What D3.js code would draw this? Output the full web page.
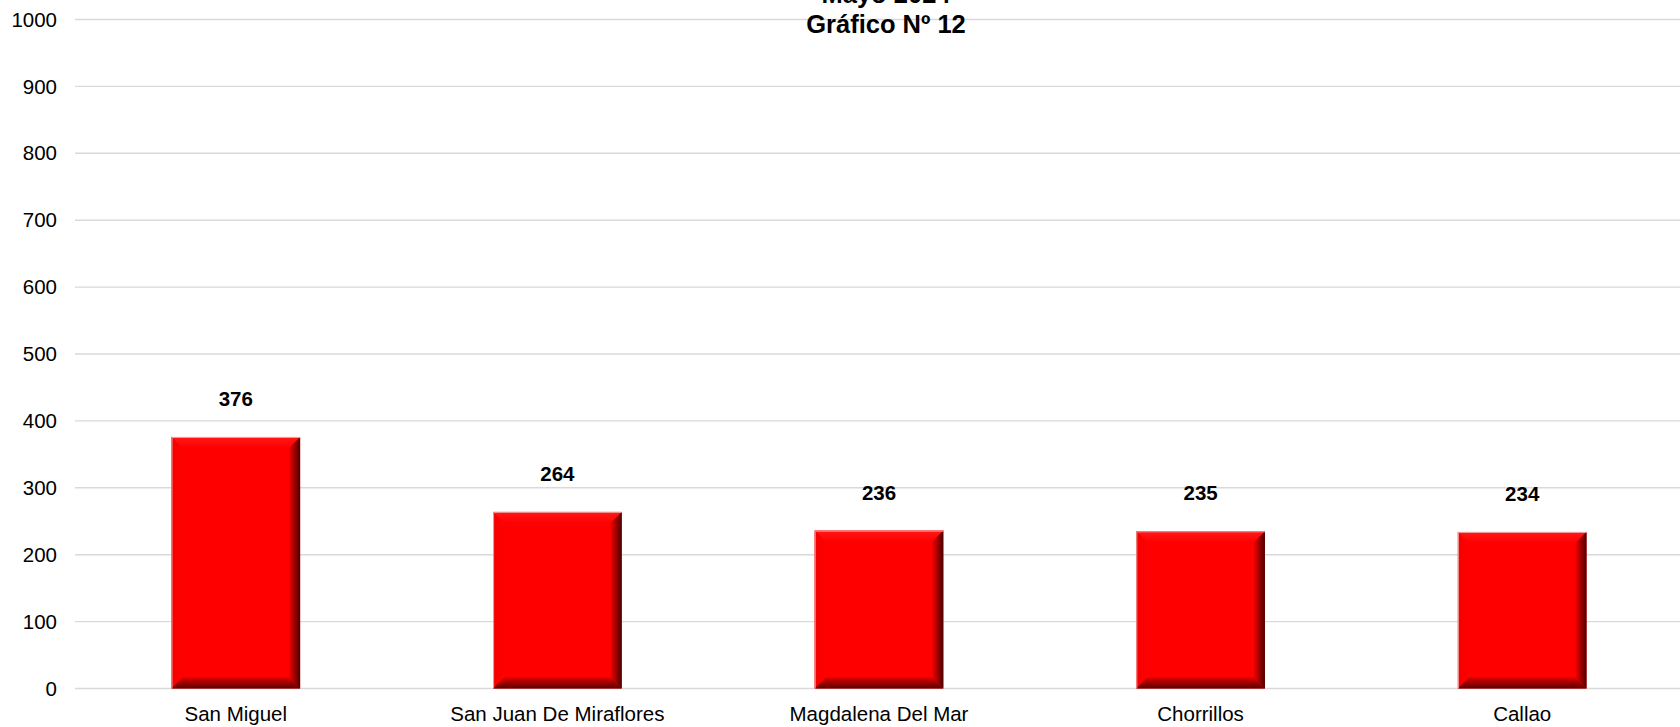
<!DOCTYPE html>
<html>
<head>
<meta charset="utf-8">
<script src="https://cdn.jsdelivr.net/npm/d3@7"></script>
<style>
  body { margin: 0; background: #fff; }
  svg { display: block; font-family: "Liberation Sans", Arial, sans-serif; }
</style>
</head>
<body>
<svg id="chart" width="1680" height="727"></svg>
<script>
// data
const distritos = ["San Miguel", "San Juan De Miraflores", "Magdalena Del Mar", "Chorrillos", "Callao"];
const valores = [376, 264, 236, 235, 234];
const yTicks = [0, 100, 200, 300, 400, 500, 600, 700, 800, 900, 1000];
const titulo = ["Mayo 2024", "Gráfico Nº 12"];

const svg = d3.select("#chart");
const margin = { top: 19.5, left: 75, bottom: 38.5 };
const plotW = 1608;

const x = d3.scaleBand()
    .domain(distritos)
    .range([margin.left, margin.left + plotW])
    .paddingInner(0.6)
    .paddingOuter(0.3);

const y = d3.scaleLinear()
    .domain([0, 1000])
    .range([727 - margin.bottom, margin.top]);

// gradients for the bevel edges
const defs = svg.append("defs");
function grad(id, x1, y1, x2, y2, c1, c2) {
    const g = defs.append("linearGradient").attr("id", id)
        .attr("x1", x1).attr("y1", y1).attr("x2", x2).attr("y2", y2);
    g.append("stop").attr("offset", "0%").attr("stop-color", c1);
    g.append("stop").attr("offset", "100%").attr("stop-color", c2);
}
grad("bevRight", "0%", "0%", "100%", "0%", "#f00000", "#4a0000");
grad("bevBottom", "0%", "0%", "0%", "100%", "#e00000", "#5a0000");
grad("bevLeft", "0%", "0%", "100%", "0%", "#f40000", "#ff0000");
grad("bevTop", "0%", "0%", "0%", "100%", "#ff1818", "#ff0000");

// gridlines
svg.append("g")
    .selectAll("line")
    .data(yTicks)
    .join("line")
    .attr("x1", margin.left)
    .attr("x2", 1680)
    .attr("y1", d => y(d))
    .attr("y2", d => y(d))
    .attr("stroke", "#d9d9d9")
    .attr("stroke-width", 1.4);

// y axis labels
svg.append("g")
    .selectAll("text")
    .data(yTicks)
    .join("text")
    .attr("x", 57)
    .attr("y", d => y(d))
    .attr("dy", "0.35em")
    .attr("text-anchor", "end")
    .style("font-size", "20.5px")
    .attr("fill", "#000")
    .text(d => d);

// bars with bevel
const bv = 11;
const bars = svg.append("g")
    .selectAll("g")
    .data(distritos.map((d, i) => ({ name: d, value: valores[i] })))
    .join("g");

bars.each(function(d) {
    const g = d3.select(this);
    const x0 = x(d.name), x1 = x0 + x.bandwidth();
    const y0 = y(d.value), y1 = y(0);
    g.append("rect")
        .attr("x", x0).attr("y", y0)
        .attr("width", x1 - x0).attr("height", y1 - y0)
        .attr("fill", "#ff0000");
    // top
    g.append("path")
        .attr("d", `M${x0},${y0}L${x1},${y0}L${x1 - bv},${y0 + bv}L${x0 + bv},${y0 + bv}Z`)
        .attr("fill", "url(#bevTop)");
    // left
    g.append("path")
        .attr("d", `M${x0},${y0}L${x0 + bv},${y0 + bv}L${x0 + bv},${y1 - bv}L${x0},${y1}Z`)
        .attr("fill", "url(#bevLeft)");
    // right
    g.append("path")
        .attr("d", `M${x1},${y0}L${x1},${y1}L${x1 - bv},${y1 - bv}L${x1 - bv},${y0 + bv}Z`)
        .attr("fill", "url(#bevRight)");
    // bottom
    g.append("path")
        .attr("d", `M${x0},${y1}L${x0 + bv},${y1 - bv}L${x1 - bv},${y1 - bv}L${x1},${y1}Z`)
        .attr("fill", "url(#bevBottom)");
    // thin light rim along top and left
    g.append("path")
        .attr("d", `M${x0 + 0.5},${y1}L${x0 + 0.5},${y0 + 0.5}L${x1},${y0 + 0.5}`)
        .attr("fill", "none")
        .attr("stroke", "#f2a0a0")
        .attr("stroke-width", 1);
});

// value labels
bars.append("text")
    .attr("x", d => x(d.name) + x.bandwidth() / 2)
    .attr("y", d => y(d.value) - 38)
    .attr("dy", "0.35em")
    .attr("text-anchor", "middle")
    .style("font-size", "20.5px")
    .style("font-weight", "bold")
    .text(d => d.value);

// category labels
svg.append("g")
    .selectAll("text")
    .data(distritos)
    .join("text")
    .attr("x", d => x(d) + x.bandwidth() / 2)
    .attr("y", 714)
    .attr("dy", "0.35em")
    .attr("text-anchor", "middle")
    .style("font-size", "20.5px")
    .text(d => d);

// title (first line sits partly above the top edge, as in the original)
svg.append("g")
    .selectAll("text")
    .data(titulo)
    .join("text")
    .attr("x", 886)
    .attr("y", (d, i) => 3 + i * 30)
    .attr("text-anchor", "middle")
    .style("font-size", "25.5px")
    .style("font-weight", "bold")
    .text(d => d);
</script>
</body>
</html>
